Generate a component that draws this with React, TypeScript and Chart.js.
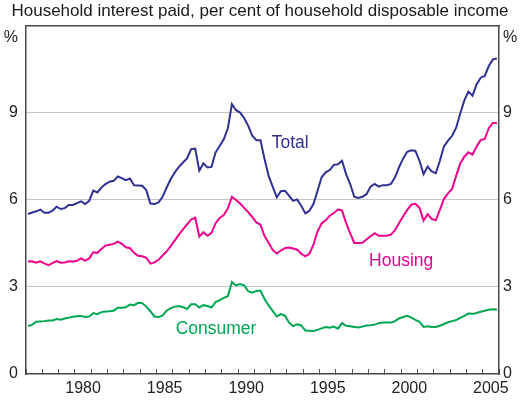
import React, { useEffect, useRef } from 'react';
import { Chart, registerables } from 'chart.js';

Chart.register(...registerables);

// ---- Data (quarterly, 1977 Q1 – 2005 Q4) ----
const START_YEAR = 1977;
const END_YEAR = 2006;

const total = [
  5.51, 5.56, 5.60, 5.66, 5.55, 5.55, 5.62, 5.76, 5.68, 5.71,
  5.82, 5.82, 5.88, 5.94, 5.85, 5.96, 6.31, 6.25, 6.42, 6.54,
  6.62, 6.65, 6.80, 6.74, 6.67, 6.73, 6.50, 6.49, 6.48, 6.33,
  5.87, 5.85, 5.91, 6.10, 6.42, 6.71, 6.94, 7.13, 7.28, 7.42,
  7.74, 7.76, 7.00, 7.25, 7.11, 7.13, 7.63, 7.85, 8.08, 8.46,
  9.29, 9.08, 9.00, 8.81, 8.54, 8.20, 8.05, 8.05, 7.40, 6.82,
  6.45, 6.08, 6.29, 6.31, 6.14, 5.96, 6.01, 5.79, 5.53, 5.62,
  5.85, 6.31, 6.77, 6.94, 7.02, 7.20, 7.22, 7.34, 6.88, 6.54,
  6.10, 6.06, 6.10, 6.19, 6.45, 6.54, 6.45, 6.50, 6.50, 6.54,
  6.77, 7.12, 7.42, 7.65, 7.70, 7.68, 7.34, 6.88, 7.14, 6.97,
  6.91, 7.34, 7.83, 8.03, 8.20, 8.48, 8.97, 9.42, 9.72, 9.58,
  9.97, 10.20, 10.26, 10.60, 10.83, 10.86,
];

const housing = [
  3.87, 3.88, 3.83, 3.88, 3.81, 3.75, 3.82, 3.89, 3.83, 3.84,
  3.88, 3.87, 3.90, 3.98, 3.90, 3.98, 4.19, 4.17, 4.30, 4.42,
  4.45, 4.48, 4.56, 4.48, 4.36, 4.33, 4.17, 4.07, 4.05, 4.00,
  3.80, 3.84, 3.93, 4.08, 4.22, 4.40, 4.60, 4.80, 4.98, 5.15,
  5.32, 5.38, 4.73, 4.88, 4.76, 4.86, 5.19, 5.37, 5.47, 5.70,
  6.10, 5.99, 5.87, 5.72, 5.57, 5.40, 5.22, 5.14, 4.75, 4.52,
  4.27, 4.15, 4.25, 4.33, 4.35, 4.32, 4.28, 4.14, 4.05, 4.14,
  4.45, 4.91, 5.18, 5.29, 5.45, 5.54, 5.66, 5.63, 5.20, 4.85,
  4.51, 4.51, 4.52, 4.63, 4.74, 4.85, 4.76, 4.76, 4.76, 4.80,
  4.95, 5.20, 5.43, 5.65, 5.83, 5.86, 5.72, 5.28, 5.50, 5.34,
  5.29, 5.65, 6.03, 6.22, 6.37, 6.83, 7.25, 7.48, 7.63, 7.55,
  7.83, 8.05, 8.09, 8.46, 8.65, 8.63,
];

const consumer = [
  1.65, 1.69, 1.80, 1.81, 1.82, 1.84, 1.84, 1.89, 1.87, 1.91,
  1.94, 1.97, 1.99, 2.00, 1.96, 1.98, 2.10, 2.06, 2.13, 2.15,
  2.16, 2.18, 2.28, 2.28, 2.30, 2.39, 2.37, 2.45, 2.44, 2.32,
  2.16, 1.98, 1.96, 2.02, 2.18, 2.27, 2.32, 2.34, 2.30, 2.24,
  2.40, 2.40, 2.29, 2.37, 2.34, 2.29, 2.48, 2.54, 2.62, 2.68,
  3.17, 3.05, 3.10, 3.05, 2.85, 2.80, 2.86, 2.87, 2.58, 2.36,
  2.17, 1.98, 2.06, 2.01, 1.77, 1.65, 1.71, 1.67, 1.50, 1.49,
  1.48, 1.52, 1.57, 1.62, 1.59, 1.63, 1.56, 1.75, 1.66, 1.64,
  1.62, 1.60, 1.63, 1.67, 1.68, 1.70, 1.75, 1.77, 1.77, 1.77,
  1.82, 1.91, 1.96, 2.00, 1.94, 1.86, 1.80, 1.62, 1.64, 1.62,
  1.62, 1.66, 1.72, 1.78, 1.82, 1.86, 1.93, 2.00, 2.08, 2.07,
  2.10, 2.14, 2.18, 2.21, 2.23, 2.22,
];

const yTickValues = [0, 3, 6, 9];
const labeledYears = [1980, 1985, 1990, 1995, 2000, 2005];
const titleText = 'Household interest paid, per cent of household disposable income';
const unitLabel = '%';
const UNIT_POS = 11.57;

const seriesNames = ['Total', 'Housing', 'Consumer'];
// label anchor points in data coordinates (year, %)
const labelYears = [1993.2, 2000.0, 1988.65];
const labelValues = [7.93, 3.9, 1.56];

// ---- Styles ----
const COLORS = ['#2e3192', '#ec008c', '#00a651'];
const FONT = "'Liberation Sans', Arial, Helvetica, sans-serif";
const BORDER_COLOR = '#4a4a4a';
const GRID_COLOR = '#c6c6c6';

const quarterX = (i: number) => START_YEAR + (i + 0.5) / 4;
const toPoints = (arr: number[]) => arr.map((v, i) => ({ x: quarterX(i), y: v }));

const yearTicks: number[] = [];
for (let y = START_YEAR; y <= END_YEAR; y++) yearTicks.push(y);

const seriesLabelPlugin = {
  id: 'seriesLabelPlugin',
  afterDatasetsDraw(chart: any) {
    const { ctx, scales } = chart;
    ctx.save();
    ctx.font = `17.5px ${FONT}`;
    ctx.textAlign = 'center';
    ctx.textBaseline = 'middle';
    seriesNames.forEach((name, i) => {
      ctx.fillStyle = COLORS[i];
      ctx.fillText(
        name,
        scales.x.getPixelForValue(labelYears[i]),
        scales.y.getPixelForValue(labelValues[i])
      );
    });
    ctx.restore();
  },
};

export default function App() {
  const canvasRef = useRef<HTMLCanvasElement | null>(null);

  useEffect(() => {
    if (!canvasRef.current) return;
    Chart.defaults.font.family = FONT;
    const border = { display: true, color: BORDER_COLOR, width: 1.5 };
    const yTicksBuilder = (s: any) => {
      s.ticks = [...yTickValues, UNIT_POS].map((v) => ({ value: v }));
    };
    const yLabel = (v: any) => (v === UNIT_POS ? unitLabel : String(v));

    const chart = new Chart(canvasRef.current, {
      type: 'line',
      data: {
        datasets: [total, housing, consumer].map((arr, i) => ({
          label: seriesNames[i],
          data: toPoints(arr),
          borderColor: COLORS[i],
          backgroundColor: COLORS[i],
          borderWidth: 2,
          pointRadius: 0,
          tension: 0,
          fill: false,
        })),
      },
      options: {
        animation: false,
        responsive: false,
        maintainAspectRatio: false,
        layout: { padding: 0 },
        plugins: {
          legend: { display: false },
          tooltip: { enabled: false },
          title: {
            display: true,
            text: titleText,
            color: '#1a1a1a',
            font: { size: 17, weight: 'normal', family: FONT },
            padding: { top: 1, bottom: 4 },
          },
        },
        scales: {
          x: {
            type: 'linear',
            position: 'bottom',
            min: START_YEAR,
            max: END_YEAR,
            afterBuildTicks: (s: any) => {
              s.ticks = yearTicks.map((v) => ({ value: v }));
            },
            afterFit: (s: any) => {
              s.height = 31;
            },
            grid: {
              drawOnChartArea: false,
              drawTicks: true,
              tickLength: -5,
              tickColor: '#555555',
              tickWidth: 1,
            },
            border,
            ticks: {
              autoSkip: false,
              maxRotation: 0,
              minRotation: 0,
              labelOffset: 8.15,
              padding: 10,
              color: '#222222',
              font: { size: 16 },
              callback: (v: any) => (labeledYears.includes(v) ? String(v) : ''),
            },
          },
          x2: {
            type: 'linear',
            position: 'top',
            min: START_YEAR,
            max: END_YEAR,
            ticks: { display: false },
            grid: { drawOnChartArea: false, drawTicks: false },
            border,
            afterFit: (s: any) => {
              s.height = 0;
            },
          },
          y: {
            type: 'linear',
            position: 'left',
            min: 0,
            max: 12,
            afterBuildTicks: yTicksBuilder,
            afterFit: (s: any) => {
              s.width = 26;
            },
            grid: {
              drawTicks: false,
              lineWidth: 1,
              color: (c: any) =>
                c.tick && (c.tick.value === 0 || c.tick.value === UNIT_POS)
                  ? 'rgba(0,0,0,0)'
                  : GRID_COLOR,
            },
            border,
            ticks: {
              padding: 8,
              color: '#222222',
              font: { size: 16 },
              callback: yLabel,
            },
          },
          y2: {
            type: 'linear',
            position: 'right',
            min: 0,
            max: 12,
            afterBuildTicks: yTicksBuilder,
            afterFit: (s: any) => {
              s.width = 21;
            },
            grid: { drawOnChartArea: false, drawTicks: false },
            border,
            ticks: {
              padding: 4,
              color: '#222222',
              font: { size: 16 },
              callback: yLabel,
            },
          },
        },
      } as any,
      plugins: [seriesLabelPlugin],
    });

    return () => chart.destroy();
  }, []);

  return (
    <div style={{ position: 'fixed', left: 0, top: 0, width: 520, height: 405, background: '#ffffff' }}>
      <canvas ref={canvasRef} width={520} height={405} style={{ display: 'block' }} />
    </div>
  );
}
